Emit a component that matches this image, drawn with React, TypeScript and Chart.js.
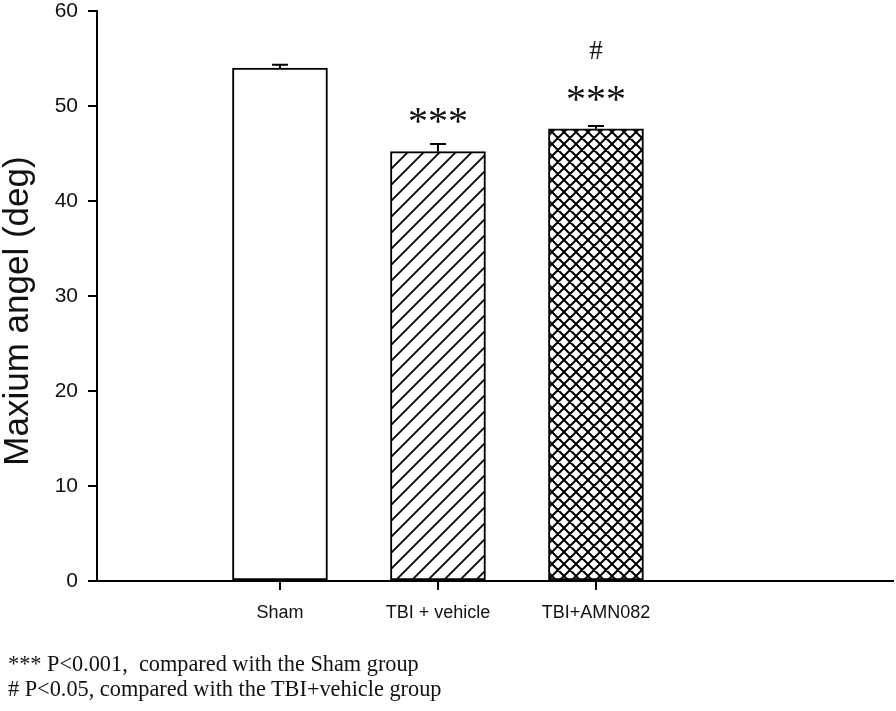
import React, { useEffect, useRef } from 'react';
import { Chart, registerables } from 'chart.js';

Chart.register(...registerables);

const categories = ['Sham', 'TBI + vehicle', 'TBI+AMN082'];
const meanValues = [54.0, 45.2, 47.6];
const semValues = [0.35, 0.8, 0.3];
const yTicks = [0, 10, 20, 30, 40, 50, 60];
const starLabels = ['', '***', '***'];
const starLevels = [null, 49.2, 51.5];
const hashLabels = ['', '', '#'];
const hashLevels = [null, null, 55.9];
const fillKinds = ['none', 'diagonal', 'cross'];
const yTitle = 'Maxium angel (deg)';
const footnotes = [
  '*** P<0.001,  compared with the Sham group',
  '# P<0.05, compared with the TBI+vehicle group',
];

const W = 896;
const H = 711;

function makePattern(kind: string): CanvasPattern | string {
  if (kind === 'none') return '#ffffff';
  const size = kind === 'diagonal' ? 16 : 12;
  const c = document.createElement('canvas');
  c.width = size;
  c.height = size;
  const g = c.getContext('2d')!;
  g.fillStyle = '#ffffff';
  g.fillRect(0, 0, size, size);
  g.strokeStyle = '#000000';
  g.lineWidth = kind === 'diagonal' ? 1.8 : 2;
  g.lineCap = 'square';
  g.beginPath();
  g.moveTo(-2, size + 2);
  g.lineTo(size + 2, -2);
  g.moveTo(-2, 2);
  g.lineTo(2, -2);
  g.moveTo(size - 2, size + 2);
  g.lineTo(size + 2, size - 2);
  if (kind === 'cross') {
    g.moveTo(-2, -2);
    g.lineTo(size + 2, size + 2);
    g.moveTo(size - 2, -2);
    g.lineTo(size + 2, 2);
    g.moveTo(-2, size - 2);
    g.lineTo(2, size + 2);
  }
  g.stroke();
  const p = g.createPattern(c, 'repeat');
  return p || '#ffffff';
}

const annotationPlugin = {
  id: 'errAndStars',
  afterDatasetsDraw(chart: any) {
    const ctx = chart.ctx;
    const yScale = chart.scales.y;
    const meta = chart.getDatasetMeta(0);
    ctx.save();
    meta.data.forEach((bar: any, i: number) => {
      const x = bar.x;
      const top = yScale.getPixelForValue(meanValues[i]);
      const errTop = yScale.getPixelForValue(meanValues[i] + semValues[i]);
      ctx.strokeStyle = '#000';
      ctx.lineWidth = 2;
      ctx.beginPath();
      ctx.moveTo(x, top);
      ctx.lineTo(x, errTop);
      ctx.moveTo(x - 8, errTop);
      ctx.lineTo(x + 8, errTop);
      ctx.stroke();

      ctx.fillStyle = '#111';
      ctx.textAlign = 'center';
      ctx.textBaseline = 'alphabetic';
      const sl = starLevels[i];
      if (starLabels[i] && sl !== null) {
        const cy = yScale.getPixelForValue(sl);
        ctx.font = '40px "Liberation Serif", "Times New Roman", serif';
        ctx.fillText(starLabels[i], x, cy + 20);
      }
      const hl = hashLevels[i];
      if (hashLabels[i] && hl !== null) {
        const cy = yScale.getPixelForValue(hl);
        ctx.font = '27px "Liberation Serif", "Times New Roman", serif';
        ctx.fillText(hashLabels[i], x, cy + 9);
      }
    });
    const ca = chart.chartArea;
    ctx.translate(28, (ca.top + ca.bottom) / 2 + 15);
    ctx.rotate(-Math.PI / 2);
    ctx.font = '35px "Liberation Sans", Arial, sans-serif';
    ctx.fillStyle = '#111';
    ctx.textAlign = 'center';
    ctx.textBaseline = 'alphabetic';
    ctx.fillText(yTitle, 0, 0);
    ctx.restore();
  },
};

export default function App() {
  const ref = useRef<HTMLCanvasElement>(null);

  useEffect(() => {
    if (!ref.current) return;
    const fills = fillKinds.map((k) => makePattern(k));
    const chart = new Chart(ref.current, {
      type: 'bar',
      data: {
        datasets: [
          {
            data: categories.map((_, i) => ({ x: i + 1, y: meanValues[i] })) as any,
            backgroundColor: fills as any,
            borderColor: '#000',
            borderWidth: 2,
            borderSkipped: false,
            barThickness: 95,
          },
        ],
      },
      options: {
        animation: false,
        responsive: false,
        devicePixelRatio: 1,
        layout: { padding: { top: 0, right: 3, left: 0, bottom: 0 } },
        plugins: {
          legend: { display: false },
          tooltip: { enabled: false },
        },
        scales: {
          x: {
            type: 'linear',
            offset: false,
            min: -0.158,
            max: 4.88,
            afterBuildTicks: (s: any) => {
              s.ticks = categories.map((_, i) => ({ value: i + 1 }));
            },
            afterFit: (s: any) => {
              s.height = 130;
            },
            ticks: {
              callback: (_v: any, idx: number) => categories[idx] ?? '',
              font: { family: 'Liberation Sans, Arial, sans-serif', size: 18 },
              color: '#111',
              padding: 12,
              maxRotation: 0,
              autoSkip: false,
            },
            grid: { offset: false, drawOnChartArea: false, tickLength: 9, color: '#000', lineWidth: 2 },
            border: { color: '#000', width: 2 },
          },
          y: {
            min: 0,
            max: 60,
            afterBuildTicks: (s: any) => {
              s.ticks = yTicks.map((v) => ({ value: v }));
            },
            afterFit: (s: any) => {
              s.width = 97;
            },
            ticks: {
              font: { family: 'Liberation Sans, Arial, sans-serif', size: 21, lineHeight: 0.1 },
              color: '#111',
              padding: 10,
            },
            grid: { drawOnChartArea: false, tickLength: 9, color: '#000', lineWidth: 2 },
            border: { color: '#000', width: 2 },
          },
        },
      },
      plugins: [annotationPlugin],
    });
    return () => chart.destroy();
  }, []);

  return (
    <div style={{ position: 'absolute', left: 0, top: 0, width: W, height: H, background: '#fff' }}>
      <canvas ref={ref} width={W} height={H} style={{ display: 'block', width: W, height: H }} />
      <div
        style={{
          position: 'absolute',
          left: 8,
          top: 651,
          fontFamily: '"Liberation Serif", "Times New Roman", serif',
          fontSize: 22.3,
          lineHeight: '25px',
          color: '#111',
          whiteSpace: 'pre',
        }}
      >
        {footnotes.map((t, i) => (
          <div key={i}>{t}</div>
        ))}
      </div>
    </div>
  );
}
